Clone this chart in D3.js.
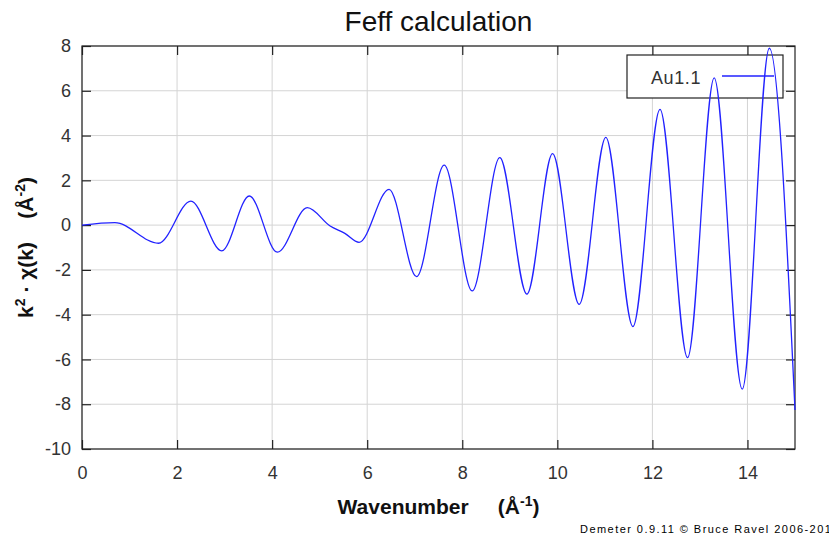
<!DOCTYPE html>
<html>
<head>
<meta charset="utf-8">
<script src="https://cdn.jsdelivr.net/npm/d3@7"></script>
<style>
  body { margin: 0; background: #fff; }
  text { font-family: "Liberation Sans", Arial, sans-serif; }
</style>
</head>
<body>
<div id="container"></div>
<script>
// Data (extrema + a few shoulder points)
const kValues = [0, 0.69, 1.61, 2.29, 2.94, 3.52, 4.11, 4.74, 5.22, 5.53, 5.83, 6.46, 7.04, 7.62,
  8.21, 8.79, 9.36, 9.9, 10.46, 11.02, 11.59, 12.16, 12.74, 13.3, 13.89, 14.46, 15.0];
const chiValues = [0, 0.11, -0.81, 1.07, -1.15, 1.3, -1.21, 0.78, -0.04, -0.37, -0.77, 1.6, -2.3, 2.68,
  -2.94, 3.01, -3.08, 3.19, -3.54, 3.92, -4.53, 5.17, -5.92, 6.58, -7.33, 7.9, -8.26];
const xTicks = [0, 2, 4, 6, 8, 10, 12, 14];
const yTicks = [-10, -8, -6, -4, -2, 0, 2, 4, 6, 8];
const seriesName = "Au1.1";

const data = kValues.map((k, i) => ({ k: k, chi: chiValues[i] }));

// Constants
const width = 829;
const height = 544;
const plotLeft = 82;
const plotRight = 795;
const plotTop = 46;
const plotBottom = 449;
const blue = "#2222ff";

// Scales
const xScale = d3.scaleLinear().domain([0, 15]).range([plotLeft, plotRight]);
const yScale = d3.scaleLinear().domain([-10, 8]).range([plotBottom, plotTop]);

const svg = d3
  .select("#container")
  .append("svg")
  .attr("width", width)
  .attr("height", height);

// Grid
svg
  .append("g")
  .selectAll("line")
  .data(xTicks)
  .enter()
  .append("line")
  .attr("x1", (d) => xScale(d))
  .attr("x2", (d) => xScale(d))
  .attr("y1", plotTop)
  .attr("y2", plotBottom)
  .attr("stroke", "#d4d4d4")
  .attr("stroke-width", 1);

svg
  .append("g")
  .selectAll("line")
  .data(yTicks)
  .enter()
  .append("line")
  .attr("x1", plotLeft)
  .attr("x2", plotRight)
  .attr("y1", (d) => yScale(d))
  .attr("y2", (d) => yScale(d))
  .attr("stroke", "#d4d4d4")
  .attr("stroke-width", 1);

// Axes, ticks pointing inward on all four sides
const styleAxis = (g) => {
  g.select(".domain").remove();
  g.selectAll(".tick line").attr("stroke", "#222").attr("stroke-width", 1.2);
  g.selectAll(".tick text")
    .attr("fill", "#333")
    .style("font-size", "18px")
    .style("font-family", "'Liberation Sans', Arial, sans-serif");
};
const plainNum = (d) => String(d); // keep hyphen minus like the original

svg
  .append("g")
  .attr("transform", `translate(0,${plotBottom})`)
  .call(d3.axisBottom(xScale).tickValues(xTicks).tickSize(-9).tickPadding(17).tickFormat(plainNum))
  .call(styleAxis);

svg
  .append("g")
  .attr("transform", `translate(0,${plotTop})`)
  .call(d3.axisTop(xScale).tickValues(xTicks).tickSize(-9).tickFormat(""))
  .call(styleAxis);

svg
  .append("g")
  .attr("transform", `translate(${plotLeft},0)`)
  .call(d3.axisLeft(yScale).tickValues(yTicks).tickSize(-9).tickPadding(11).tickFormat(plainNum))
  .call(styleAxis);

svg
  .append("g")
  .attr("transform", `translate(${plotRight},0)`)
  .call(d3.axisRight(yScale).tickValues(yTicks).tickSize(-9).tickFormat(""))
  .call(styleAxis);

// Frame
svg
  .append("rect")
  .attr("x", plotLeft)
  .attr("y", plotTop)
  .attr("width", plotRight - plotLeft)
  .attr("height", plotBottom - plotTop)
  .attr("fill", "none")
  .attr("stroke", "#222")
  .attr("stroke-width", 1.2);

// Legend box (under the curve)
const legend = svg.append("g").attr("id", "legend");
legend
  .append("rect")
  .attr("x", 627)
  .attr("y", 55)
  .attr("width", 156)
  .attr("height", 43)
  .attr("fill", "#fff")
  .attr("stroke", "#222")
  .attr("stroke-width", 1.2);
legend
  .append("text")
  .attr("x", 651)
  .attr("y", 84)
  .attr("fill", "#333")
  .style("font-size", "18px")
  .style("letter-spacing", "0.6px")
  .text(seriesName);
legend
  .append("line")
  .attr("x1", 722)
  .attr("x2", 774)
  .attr("y1", 76)
  .attr("y2", 76)
  .attr("stroke", blue)
  .attr("stroke-width", 1.3);

// Curve
const line = d3
  .line()
  .x((d) => xScale(d.k))
  .y((d) => yScale(d.chi))
  .curve(d3.curveMonotoneX);

svg
  .append("path")
  .datum(data)
  .attr("d", line)
  .attr("fill", "none")
  .attr("stroke", blue)
  .attr("stroke-width", 1.3);

// Title
svg
  .append("text")
  .attr("x", (plotLeft + plotRight) / 2)
  .attr("y", 31)
  .attr("text-anchor", "middle")
  .attr("fill", "#111")
  .style("font-size", "28px")
  .text("Feff calculation");

// X label
const xLabel = svg
  .append("text")
  .attr("x", (plotLeft + plotRight) / 2)
  .attr("y", 514)
  .attr("text-anchor", "middle")
  .attr("fill", "#111")
  .style("font-size", "21px")
  .style("font-weight", "bold")
  .style("white-space", "pre");
xLabel.append("tspan").text("Wavenumber     (Å");
xLabel.append("tspan").attr("dy", -8).style("font-size", "14px").text("-1");
xLabel.append("tspan").attr("dy", 8).text(")");

// Y label
const yLabel = svg
  .append("text")
  .attr("transform", `translate(33,${(plotTop + plotBottom) / 2}) rotate(-90)`)
  .attr("text-anchor", "middle")
  .attr("fill", "#111")
  .style("font-size", "21px")
  .style("font-weight", "bold")
  .style("white-space", "pre");
yLabel.append("tspan").text("k");
yLabel.append("tspan").attr("dy", -8).style("font-size", "14px").text("2");
yLabel.append("tspan").attr("dy", 8).text(" · χ(k)    (Å");
yLabel.append("tspan").attr("dy", -8).style("font-size", "14px").text("-2");
yLabel.append("tspan").attr("dy", 8).text(")");

// Footer
svg
  .append("text")
  .attr("x", 580)
  .attr("y", 533)
  .attr("fill", "#000")
  .style("font-size", "11px")
  .style("letter-spacing", "1.45px")
  .text("Demeter 0.9.11 © Bruce Ravel 2006-2012");
</script>
</body>
</html>
